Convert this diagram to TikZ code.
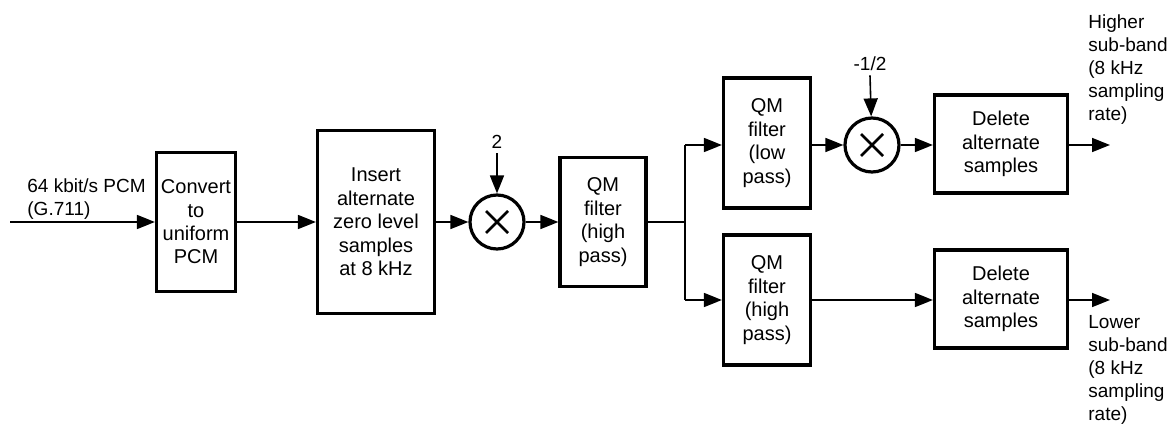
\documentclass[tikz,border=0pt]{standalone}
\usepackage{fontspec}
\setmainfont{Liberation Sans}
\usetikzlibrary{arrows.meta}

\begin{document}
\begin{tikzpicture}[x=0.5pt, y=-0.5pt,
    blk/.style={draw, line width=1.6pt, inner sep=0pt, align=center,
      font=\fontsize{10}{11.7}\selectfont},
    mult/.style={draw, circle, line width=1.6pt, minimum size=27pt, inner sep=0pt,
      path picture={
        \draw[line width=1.3pt]
          ([shift={(-5.5pt,-5.5pt)}]path picture bounding box.center) --
          ([shift={(5.5pt,5.5pt)}]path picture bounding box.center)
          ([shift={(-5.5pt,5.5pt)}]path picture bounding box.center) --
          ([shift={(5.5pt,-5.5pt)}]path picture bounding box.center);}},
    sig/.style={line width=0.8pt, -{Triangle[length=9pt,width=7pt]}},
    lbl/.style={inner sep=0pt, align=left, font=\fontsize{9.5}{11.5}\selectfont}]
  \useasboundingbox (0,0) rectangle (1169,428);

  \coordinate (in) at (10,222);
  \coordinate (br) at (685,222);
  \coordinate (brt) at (685,145);
  \coordinate (brb) at (685,300);
  \coordinate (outh) at (1110,145);
  \coordinate (outl) at (1110,300);

  \node[blk, minimum width=39.5pt, minimum height=69.5pt] (conv) at (196,222)
    {Convert\\to\\uniform\\PCM};
  \node[blk, minimum width=58.5pt, minimum height=91.5pt] (ins) at (376,222)
    {Insert\\alternate\\zero level\\samples\\at 8 kHz};
  \node[mult] (m1) at (497,222) {};
  \node[blk, minimum width=43pt, minimum height=64.5pt] (qmh) at (603,222)
    {QM\\filter\\(high\\pass)};
  \node[blk, minimum width=43.5pt, minimum height=65pt] (qml) at (767,143)
    {QM\\filter\\(low\\pass)};
  \node[blk, minimum width=43.5pt, minimum height=65pt] (qmb) at (767,300)
    {QM\\filter\\(high\\pass)};
  \node[mult] (m2) at (872,145) {};
  \node[blk, minimum width=66.5pt, minimum height=49pt] (delh) at (1001,144)
    {Delete\\alternate\\samples};
  \node[blk, minimum width=66.5pt, minimum height=49pt] (dell) at (1001,299)
    {Delete\\alternate\\samples};

  \node[lbl, anchor=south west] (pcm) at (27,220) {64 kbit/s PCM\\(G.711)};
  \node[lbl] (two) at (497,142) {2};
  \node[lbl] (half) at (870,64) {-1/2};
  \node[lbl, anchor=north west] (hi) at (1088,14)
    {Higher\\sub-band\\(8 kHz\\sampling\\rate)};
  \node[lbl, anchor=north west] (lo) at (1088,315)
    {Lower\\sub-band\\(8 kHz\\sampling\\rate)};

  \draw[sig] (in) -- (conv);
  \draw[sig] (conv) -- (ins);
  \draw[sig] (ins) -- (m1);
  \draw[sig] (m1) -- (qmh);
  \draw[sig] ([yshift=-2pt]two.south) -- (m1);
  \draw[line width=0.8pt] (qmh.east) -- (br);
  \draw[line width=0.8pt] (brt) -- (brb);
  \draw[sig] (brt) -- (qml.west |- brt);
  \draw[sig] (brb) -- (qmb.west |- brb);
  \draw[sig] (qml.east |- m2) -- (m2);
  \draw[sig] ([yshift=-2pt]half.south) -- (m2);
  \draw[sig] (m2) -- (delh.west |- m2);
  \draw[sig] (qmb) -- (dell.west |- qmb);
  \draw[sig] (delh.east |- outh) -- (outh);
  \draw[sig] (dell.east |- outl) -- (outl);
\end{tikzpicture}
\end{document}
